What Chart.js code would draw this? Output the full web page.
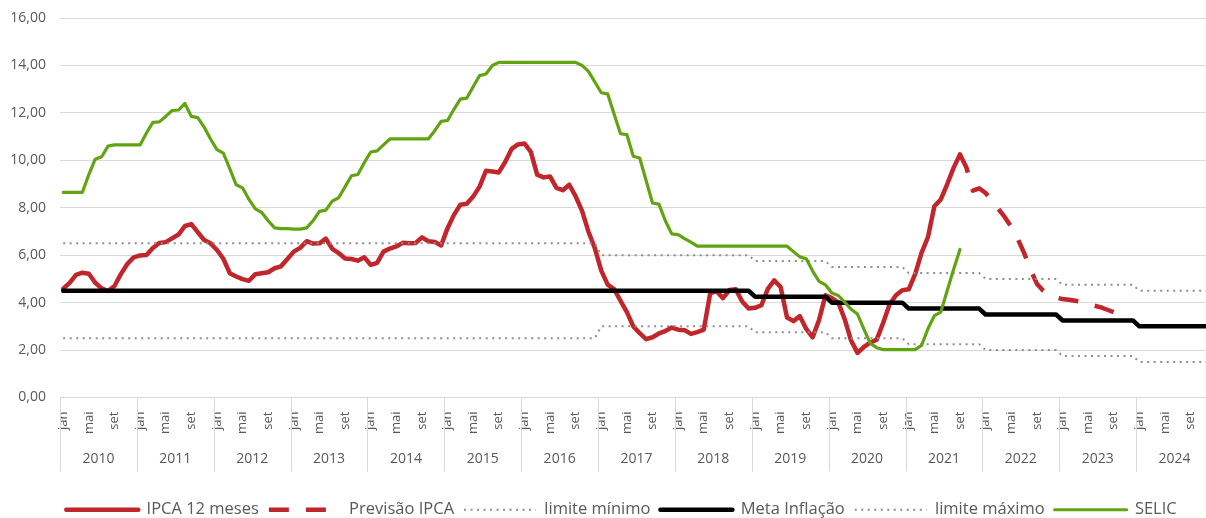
<!DOCTYPE html>
<html lang="pt-BR">
<head>
<meta charset="utf-8">
<title>IPCA, meta de inflação e SELIC</title>
<script src="https://cdn.jsdelivr.net/npm/chart.js@4.4.1/dist/chart.umd.min.js"></script>
<style>
  html, body { margin: 0; padding: 0; background: #fff; overflow: hidden; }
  #wrap { width: 1213px; height: 528px; }
</style>
</head>
<body>
<div id="wrap"><canvas id="chart" width="1213" height="528"></canvas></div>
<script>
// categories
var monthNames = ['jan', 'fev', 'mar', 'abr', 'mai', 'jun', 'jul', 'ago', 'set', 'out', 'nov', 'dez'];
var years = [2010, 2011, 2012, 2013, 2014, 2015, 2016, 2017, 2018, 2019, 2020, 2021, 2022, 2023, 2024];
var yTicks = [0, 2, 4, 6, 8, 10, 12, 14, 16];

// IPCA acumulado 12 meses, jan/2010 .. set/2021
var ipca12m = [
  4.59, 4.83, 5.17, 5.26, 5.22, 4.84, 4.60, 4.49, 4.70, 5.20, 5.63, 5.91,
  5.99, 6.01, 6.30, 6.51, 6.55, 6.71, 6.87, 7.23, 7.31, 6.97, 6.64, 6.50,
  6.22, 5.85, 5.24, 5.10, 4.99, 4.92, 5.20, 5.24, 5.28, 5.45, 5.53, 5.84,
  6.15, 6.31, 6.59, 6.49, 6.50, 6.70, 6.27, 6.09, 5.86, 5.84, 5.77, 5.91,
  5.59, 5.68, 6.15, 6.28, 6.37, 6.52, 6.50, 6.51, 6.75, 6.59, 6.56, 6.41,
  7.14, 7.70, 8.13, 8.17, 8.47, 8.89, 9.56, 9.53, 9.49, 9.93, 10.48, 10.67,
  10.71, 10.36, 9.39, 9.28, 9.32, 8.84, 8.74, 8.97, 8.48, 7.87, 6.99, 6.29,
  5.35, 4.76, 4.57, 4.08, 3.60, 3.00, 2.71, 2.46, 2.54, 2.70, 2.80, 2.95,
  2.86, 2.84, 2.68, 2.76, 2.86, 4.39, 4.48, 4.19, 4.53, 4.56, 4.05, 3.75,
  3.78, 3.89, 4.58, 4.94, 4.66, 3.37, 3.22, 3.43, 2.89, 2.54, 3.27, 4.31,
  4.19, 4.01, 3.30, 2.40, 1.88, 2.13, 2.31, 2.44, 3.14, 3.92, 4.31, 4.52,
  4.56, 5.20, 6.10, 6.76, 8.06, 8.35, 8.99, 9.68, 10.25
];

// previsao IPCA, starts at set/2021 (index 140)
var previsaoStart = 140;
var previsaoIpca = [
  10.25, 9.70, 8.72, 8.82, 8.62, 8.30, 7.95, 7.60, 7.20, 6.70, 6.10, 5.40,
  4.80, 4.50, 4.32, 4.22, 4.15, 4.12, 4.08, 4.02, 3.95, 3.87, 3.80, 3.70,
  3.60, 3.52
];

// SELIC, jan/2010 .. set/2021
var selic = [
  8.65, 8.65, 8.65, 8.65, 9.40, 10.05, 10.15, 10.60, 10.65, 10.65, 10.65, 10.65,
  10.65, 11.15, 11.60, 11.62, 11.85, 12.10, 12.12, 12.40, 11.85, 11.80, 11.40, 10.90,
  10.45, 10.30, 9.65, 8.97, 8.84, 8.35, 7.95, 7.80, 7.45, 7.15, 7.12, 7.12,
  7.10, 7.10, 7.15, 7.45, 7.85, 7.90, 8.28, 8.42, 8.88, 9.35, 9.40, 9.90,
  10.35, 10.40, 10.65, 10.90, 10.90, 10.90, 10.90, 10.90, 10.90, 10.90, 11.25, 11.64,
  11.68, 12.15, 12.58, 12.62, 13.10, 13.57, 13.64, 14.00, 14.13, 14.13, 14.13, 14.13,
  14.13, 14.13, 14.13, 14.13, 14.13, 14.13, 14.13, 14.13, 14.13, 14.00, 13.75, 13.30,
  12.85, 12.80, 11.95, 11.12, 11.08, 10.17, 10.10, 9.15, 8.20, 8.15, 7.45, 6.90,
  6.87, 6.70, 6.55, 6.38, 6.38, 6.38, 6.38, 6.38, 6.38, 6.38, 6.38, 6.38,
  6.38, 6.38, 6.38, 6.38, 6.38, 6.38, 6.15, 5.93, 5.85, 5.33, 4.90, 4.75,
  4.41, 4.30, 4.02, 3.72, 3.52, 2.88, 2.28, 2.10, 2.02, 2.02, 2.02, 2.02,
  2.02, 2.02, 2.20, 2.90, 3.45, 3.60, 4.50, 5.40, 6.24
];

// meta de inflacao and tolerance band, one value per year
var metaAno = [4.5, 4.5, 4.5, 4.5, 4.5, 4.5, 4.5, 4.5, 4.5, 4.25, 4.0, 3.75, 3.5, 3.25, 3.0];
var limMaxAno = [6.5, 6.5, 6.5, 6.5, 6.5, 6.5, 6.5, 6.0, 6.0, 5.75, 5.5, 5.25, 5.0, 4.75, 4.5];
var limMinAno = [2.5, 2.5, 2.5, 2.5, 2.5, 2.5, 2.5, 3.0, 3.0, 2.75, 2.5, 2.25, 2.0, 1.75, 1.5];

var RED = '#C0262C';
var GREEN = '#62A312';
var GREY_DOT = '#8E8E8E';
var TEXT = '#595959';
var GRID = '#D9D9D9';
var FONT = '"Open Sans", sans-serif';

function monthly(perYear) {
  var out = [];
  perYear.forEach(function(v) {
    for (var m = 0; m < 12; m++) out.push(v);
  });
  return out;
}

var labels = [];
years.forEach(function(y) {
  monthNames.forEach(function(m) { labels.push(m + '/' + y); });
});

var previsaoData = [];
for (var i = 0; i < previsaoStart; i++) previsaoData.push(null);
previsaoData = previsaoData.concat(previsaoIpca);

function fmt(v) {
  return v.toFixed(2).replace('.', ',');
}

// year separators and year names under the month ticks
var yearRow = {
  id: 'yearRow',
  afterLayout: function(chart) {
    // legend sits a little right of the canvas centre
    chart.legend.left += 15;
    chart.legend.right += 15;
  },
  afterDraw: function(chart) {
    var xs = chart.scales.x;
    var ctx = chart.ctx;
    var top = chart.chartArea.bottom;
    var step = xs.getPixelForValue(1) - xs.getPixelForValue(0);
    ctx.save();
    ctx.strokeStyle = GRID;
    ctx.lineWidth = 1;
    ctx.fillStyle = TEXT;
    ctx.font = '14px ' + FONT;
    ctx.textAlign = 'center';
    ctx.textBaseline = 'middle';
    years.forEach(function(y, k) {
      var left = xs.getPixelForValue(k * 12) - step / 2;
      var x = Math.round(left) + 0.5;
      ctx.beginPath();
      ctx.moveTo(x, top);
      ctx.lineTo(x, top + 74);
      ctx.stroke();
      ctx.fillText(String(y), left + step * 6, top + 62);
    });
    var xr = Math.round(xs.getPixelForValue(years.length * 12 - 1) + step / 2) + 0.5;
    ctx.beginPath();
    ctx.moveTo(xr, top);
    ctx.lineTo(xr, top + 74);
    ctx.stroke();
    ctx.restore();
  }
};

function lineSet(label, data, color, width, dash, order) {
  return {
    label: label,
    data: data,
    borderColor: color,
    backgroundColor: color,
    borderWidth: width,
    borderDash: dash || [],
    borderJoinStyle: 'round',
    borderCapStyle: dash ? 'butt' : 'round',
    pointRadius: 0,
    pointHoverRadius: 0,
    tension: 0,
    fill: false,
    spanGaps: false,
    order: order
  };
}

new Chart(document.getElementById('chart'), {
  type: 'line',
  data: {
    labels: labels,
    datasets: [
      lineSet('IPCA 12 meses', ipca12m, RED, 4.5, null, 5),
      lineSet('Previsão IPCA', previsaoData, RED, 4.5, [20, 17], 4),
      lineSet('limite mínimo', monthly(limMinAno), GREY_DOT, 2, [2, 4.5], 3),
      lineSet('Meta Inflação', monthly(metaAno), '#000000', 4.5, null, 2),
      lineSet('limite máximo', monthly(limMaxAno), GREY_DOT, 2, [2, 4.5], 1),
      lineSet('SELIC', selic, GREEN, 3.2, null, 0)
    ]
  },
  options: {
    responsive: false,
    animation: false,
    events: [],
    layout: { padding: { top: 18, right: 0, left: 0, bottom: 0 } },
    plugins: {
      tooltip: { enabled: false },
      legend: {
        position: 'bottom',
        labels: {
          usePointStyle: true,
          pointStyle: 'line',
          pointStyleWidth: 72,
          padding: 10,
          color: TEXT,
          font: { family: FONT, size: 16.5 },
          sort: function(a, b) { return a.datasetIndex - b.datasetIndex; },
          generateLabels: function(chart) {
            var items = Chart.defaults.plugins.legend.labels.generateLabels(chart);
            items.forEach(function(it) {
              var ds = chart.data.datasets[it.datasetIndex];
              it.strokeStyle = ds.borderColor;
              it.lineWidth = ds.borderWidth;
              it.lineDash = ds.borderDash;
              it.lineCap = ds.borderDash.length ? 'butt' : 'round';
            });
            return items;
          }
        }
      }
    },
    scales: {
      x: {
        offset: true,
        grid: { display: false, drawTicks: false },
        border: { display: true, color: GRID, width: 1 },
        ticks: {
          autoSkip: false,
          minRotation: 90,
          maxRotation: 90,
          padding: 14,
          color: TEXT,
          font: { family: FONT, size: 13 },
          callback: function(value, index) {
            var m = index % 12;
            return (m === 0 || m === 4 || m === 8) ? monthNames[m] : '';
          }
        },
        afterFit: function(scale) {
          scale.height = 94;
          scale.paddingLeft = 0;
          scale.paddingRight = 0;
        }
      },
      y: {
        min: yTicks[0],
        max: yTicks[yTicks.length - 1],
        grid: { color: GRID, lineWidth: 1, drawTicks: false },
        border: { display: false },
        ticks: {
          stepSize: 2,
          padding: 14,
          color: TEXT,
          font: { family: FONT, size: 14 },
          callback: function(v) { return fmt(v); }
        },
        afterFit: function(scale) {
          scale.width = 60;
          scale.paddingTop = 0;
          scale.paddingBottom = 0;
        }
      }
    }
  },
  plugins: [yearRow]
});
</script>
</body>
</html>
